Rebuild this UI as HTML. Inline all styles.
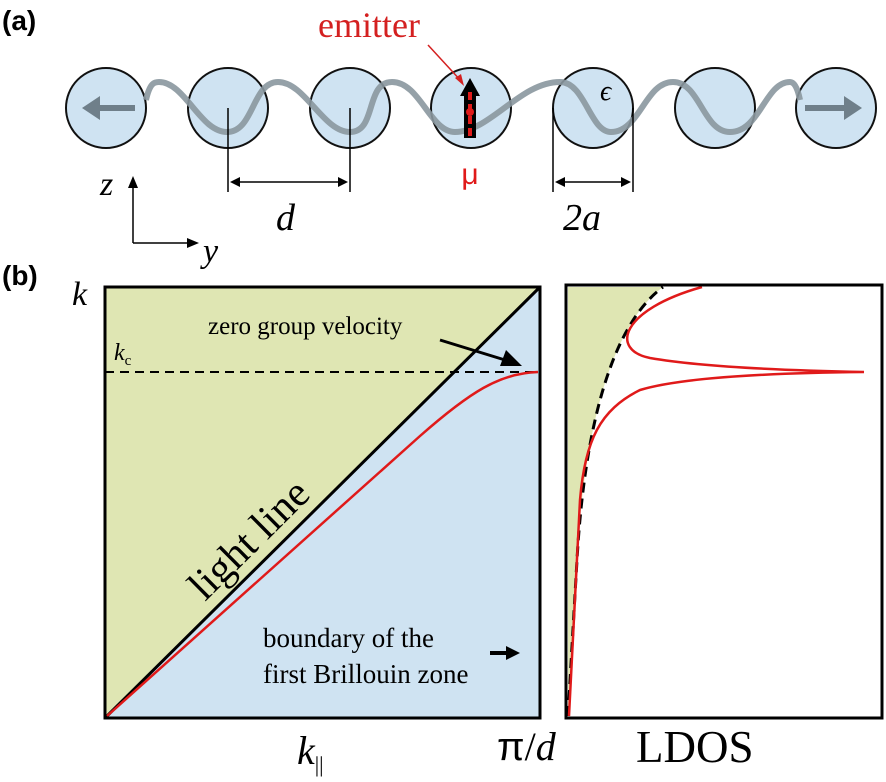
<!DOCTYPE html>
<html><head><style>body{margin:0;background:#fff}svg{display:block}</style></head><body>
<svg width="886" height="782" viewBox="0 0 886 782" xmlns="http://www.w3.org/2000/svg" font-family="Liberation Serif, serif">
<text x="2" y="30" font-family="Liberation Sans, sans-serif" font-weight="bold" font-size="28">(a)</text>
<text x="2" y="285" font-family="Liberation Sans, sans-serif" font-weight="bold" font-size="28">(b)</text>
<g fill="#cfe3f2" stroke="#111" stroke-width="2">
<circle cx="106" cy="108" r="40"/><circle cx="228" cy="108" r="40"/><circle cx="350" cy="108" r="40"/><circle cx="471" cy="108" r="40"/><circle cx="593" cy="108" r="40"/><circle cx="715" cy="108" r="40"/><circle cx="836" cy="108" r="40"/>
</g>
<path d="M146 100 C150 82,155 82,159 82 C185 82,200 132,227 132 C254 132,252 82,278 82 C305 82,323 132,350 132 C377 132,365 82,392 82 C420 82,430 132,455 132 C490 132,520 82,560 82 C585 82,590 132,611 132 C640 132,645 82,673 82 C700 82,703 132,730 132 C760 132,765 82,790 82 C795 82,798 90,800 100" fill="none" stroke="#8a979f" stroke-width="6" opacity="0.9"/>
<path d="M92 108 L135 108" stroke="#6f7f8a" stroke-width="6"/><polygon points="82,108 100,96 100,120" fill="#6f7f8a"/>
<path d="M805 108 L848 108" stroke="#6f7f8a" stroke-width="6"/><polygon points="862,108 844,96 844,120" fill="#6f7f8a"/>
<rect x="464" y="94" width="12" height="44" fill="#000"/>
<polygon points="460,96 470,78 480,96" fill="#000"/>
<line x1="470" y1="92" x2="470" y2="136" stroke="#e01a1a" stroke-width="4" stroke-dasharray="8,4"/>
<circle cx="470" cy="112" r="4" fill="#e01a1a"/>
<text x="470" y="184" font-family="Liberation Sans, sans-serif" font-size="30" fill="#e01a1a" text-anchor="middle">μ</text>
<text x="318" y="37" font-size="36" fill="#d42020">emitter</text>
<line x1="428" y1="45" x2="462" y2="82" stroke="#d42020" stroke-width="1.5"/><polygon points="464,86 455,78 461,74" fill="#d42020"/>
<text x="600" y="100" font-size="28" font-style="italic">ϵ</text>
<g stroke="#000" stroke-width="1.5" fill="none">
<line x1="228" y1="108" x2="228" y2="192"/><line x1="350" y1="108" x2="350" y2="192"/>
<line x1="234" y1="182" x2="344" y2="182"/>
<line x1="553" y1="108" x2="553" y2="192"/><line x1="633" y1="108" x2="633" y2="192"/>
<line x1="558" y1="182" x2="628" y2="182"/>
<line x1="133" y1="243" x2="133" y2="180"/><line x1="133" y1="243" x2="195" y2="243"/>
</g>
<g fill="#000">
<polygon points="230,182 240,177 240,187"/><polygon points="348,182 338,177 338,187"/>
<polygon points="555,182 565,177 565,187"/><polygon points="631,182 621,177 621,187"/>
<polygon points="133,176 128,188 138,188"/><polygon points="199,243 187,238 187,248"/>
</g>
<text x="276" y="230" font-size="38" font-style="italic">d</text>
<text x="563" y="230" font-size="38" font-style="italic">2a</text>
<text x="100" y="195" font-size="34" font-style="italic">z</text>
<text x="203" y="262" font-size="34" font-style="italic">y</text>
<rect x="105" y="287" width="435" height="431" fill="#cfe3f2"/>
<polygon points="105,287 540,287 105,718" fill="#dfe6b3"/>
<line x1="105" y1="718" x2="540" y2="287" stroke="#000" stroke-width="3"/>
<line x1="105" y1="372" x2="540" y2="372" stroke="#000" stroke-width="2" stroke-dasharray="9,6"/>
<path d="M107 716 L420 436 C470 392,500 373,538 372" fill="none" stroke="#e01a1a" stroke-width="2.5"/>
<rect x="105" y="287" width="435" height="431" fill="none" stroke="#000" stroke-width="3"/>
<text x="72" y="305" font-size="34" font-style="italic">k</text>
<text x="114" y="360" font-size="24" font-style="italic">k<tspan font-size="15" dy="5" font-style="normal">c</tspan></text>
<text x="208" y="334" font-size="25">zero group velocity</text>
<line x1="440" y1="340" x2="505" y2="360" stroke="#000" stroke-width="3"/><polygon points="522,366 500,366 506,350"/>
<text transform="translate(205,602) rotate(-44.7)" font-size="42">light line</text>
<text x="263" y="647" font-size="27">boundary of the</text>
<text x="263" y="683" font-size="27">first Brillouin zone</text>
<line x1="490" y1="653" x2="508" y2="653" stroke="#000" stroke-width="4"/><polygon points="520,653 506,646 506,660"/>
<text x="297" y="764" font-size="40" font-style="italic">k<tspan font-size="22" dy="8" font-style="normal">||</tspan></text>
<text x="497" y="760" font-size="40"><tspan font-family="Liberation Sans, sans-serif">π</tspan>/<tspan font-style="italic">d</tspan></text>
<rect x="566" y="285" width="316" height="433" fill="#fff"/>
<path d="M568 716 L577 560 C583 450,605 330,663 287 L568 287 Z" fill="#dfe6b3"/>
<path d="M568 716 L577 560 C583 450,605 330,663 287" fill="none" stroke="#000" stroke-width="3" stroke-dasharray="10,6"/>
<path d="M569 716 L580 500 C585 440,600 410,640 390 C680 378,760 373,864 372 C760 370,690 365,650 358 C610 350,620 310,702 287" fill="none" stroke="#e01a1a" stroke-width="2.5"/>
<rect x="566" y="285" width="316" height="433" fill="none" stroke="#000" stroke-width="3"/>
<text x="636" y="762" font-size="45">LDOS</text>
</svg>
</body></html>
